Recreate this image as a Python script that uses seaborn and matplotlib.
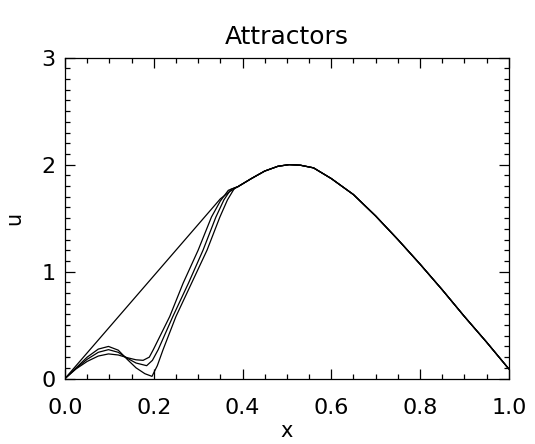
import numpy as np
import pandas as pd
import matplotlib
matplotlib.use("Agg")
import matplotlib.pyplot as plt
import seaborn as sns
from matplotlib.ticker import MultipleLocator

title = "Attractors"
xlabel = "x"
ylabel = "u"
xticks = [0.0, 0.2, 0.4, 0.6, 0.8, 1.0]
xticklabels = ["0.0", "0.2", "0.4", "0.6", "0.8", "1.0"]
yticks = [0, 1, 2, 3]
yticklabels = ["0", "1", "2", "3"]

# Shared right-hand part of all attractors
x_common = [0.39, 0.42, 0.45, 0.48, 0.505, 0.53, 0.56, 0.60, 0.65, 0.70, 0.75, 0.80, 0.85, 0.90, 0.95, 1.00]
u_common = [1.795, 1.87, 1.94, 1.985, 2.00, 1.995, 1.97, 1.87, 1.72, 1.52, 1.30, 1.07, 0.83, 0.58, 0.34, 0.09]

# Straight-line attractor (left part)
x_a = [0.0, 0.1, 0.2, 0.3, 0.35, 0.37]
u_a = [0.0, 0.48, 0.96, 1.44, 1.68, 1.745]

# Low-hump attractors (left parts)
x_b = [0, 0.025, 0.05, 0.075, 0.098, 0.12, 0.14, 0.16, 0.176, 0.19, 0.199, 0.236, 0.266, 0.300, 0.330, 0.350, 0.368]
u_b = [0, 0.09, 0.16, 0.21, 0.23, 0.22, 0.195, 0.175, 0.17, 0.20, 0.27, 0.58, 0.89, 1.20, 1.51, 1.66, 1.76]

x_c = [0, 0.025, 0.05, 0.075, 0.098, 0.12, 0.14, 0.16, 0.184, 0.197, 0.21, 0.243, 0.278, 0.311, 0.340, 0.358, 0.374]
u_c = [0, 0.095, 0.18, 0.245, 0.27, 0.245, 0.19, 0.145, 0.12, 0.17, 0.27, 0.58, 0.89, 1.20, 1.51, 1.67, 1.77]

x_d = [0, 0.025, 0.05, 0.075, 0.098, 0.12, 0.14, 0.16, 0.18, 0.196, 0.208, 0.221, 0.250, 0.285, 0.320, 0.349, 0.366, 0.382]
u_d = [0, 0.10, 0.20, 0.275, 0.30, 0.265, 0.18, 0.10, 0.045, 0.02, 0.12, 0.27, 0.58, 0.89, 1.20, 1.51, 1.67, 1.78]

frames = []
for name, xs, us in [("a", x_a, u_a), ("b", x_b, u_b), ("c", x_c, u_c), ("d", x_d, u_d)]:
    frames.append(pd.DataFrame({"x": list(xs) + x_common, "u": list(us) + u_common, "curve": name}))
df = pd.concat(frames, ignore_index=True)

sns.set_theme(style="ticks")
plt.rcParams["font.family"] = ["DejaVu Sans"]
plt.rcParams["text.color"] = "black"
plt.rcParams["axes.labelcolor"] = "black"
plt.rcParams["xtick.color"] = "black"
plt.rcParams["ytick.color"] = "black"

fig = plt.figure(figsize=(5.35, 4.44), dpi=100)
ax = fig.add_axes([0.1215, 0.1475, 0.8295, 0.7225])

sns.lineplot(data=df, x="x", y="u", hue="curve", units="curve", estimator=None, sort=False,
             palette=["black"] * 4, linewidth=0.9, legend=False, ax=ax)

ax.set_xlim(0, 1)
ax.set_ylim(0, 3)
ax.set_xticks(xticks)
ax.set_xticklabels(xticklabels)
ax.set_yticks(yticks)
ax.set_yticklabels(yticklabels)
ax.xaxis.set_minor_locator(MultipleLocator(0.05))
ax.yaxis.set_minor_locator(MultipleLocator(0.1))
ax.tick_params(which="both", direction="in", top=True, right=True, color="black", width=0.9)
ax.tick_params(which="major", length=7)
ax.tick_params(which="minor", length=3.5)
ax.tick_params(axis="x", which="major", labelsize=16, pad=14, labelcolor="black")
ax.tick_params(axis="y", which="major", labelsize=16, pad=7, labelcolor="black")
for s in ax.spines.values():
    s.set_visible(True)
    s.set_linewidth(0.9)
    s.set_color("black")

ax.set_title(title, fontsize=18, pad=10, color="black")
ax.set_xlabel(xlabel, fontsize=15, labelpad=2, color="black")
ax.set_ylabel(ylabel, fontsize=15, labelpad=12, color="black")

fig.savefig("out.png", dpi=100)
